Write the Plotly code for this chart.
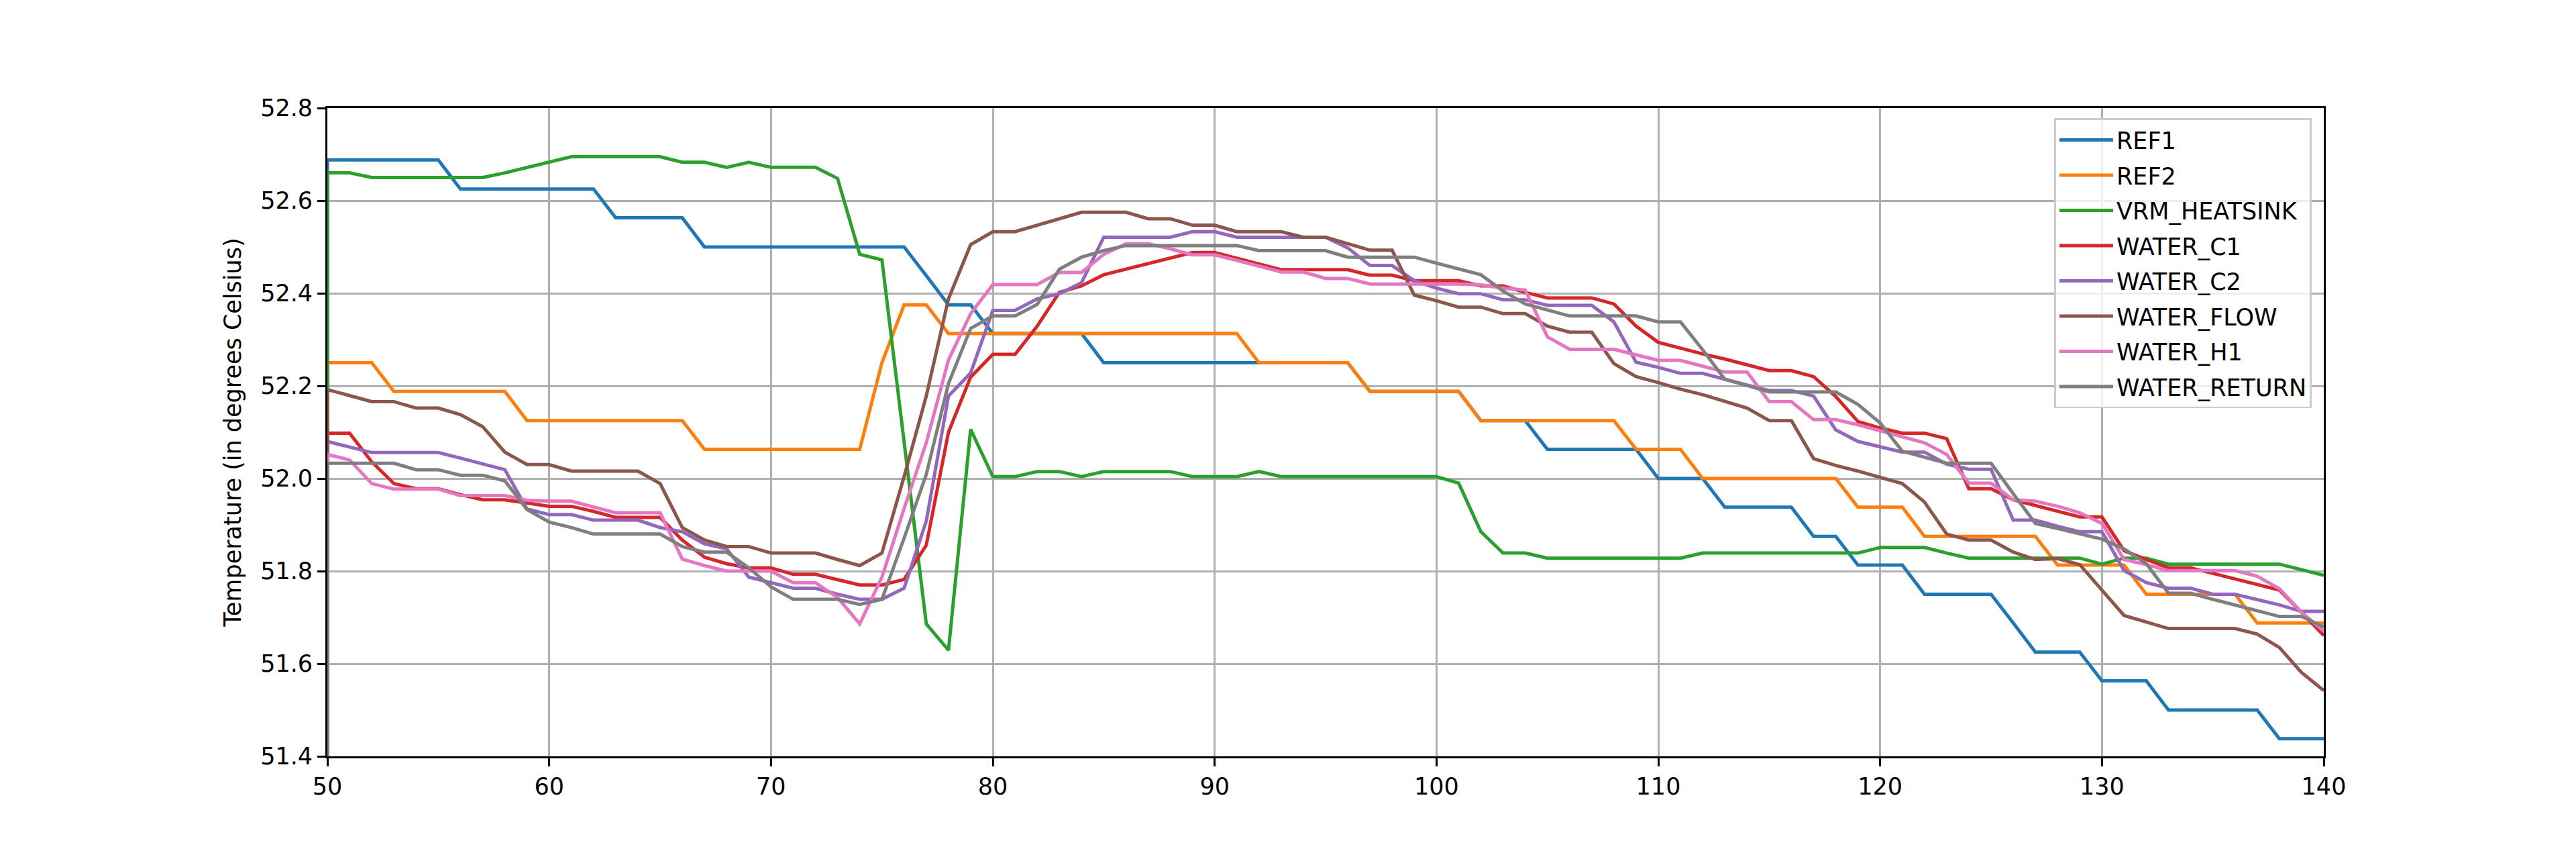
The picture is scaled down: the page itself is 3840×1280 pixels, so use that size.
import plotly.graph_objects as go

# sample index (x axis); the first point of every series is the lead-in from below the view
time = [50] + list(range(50, 141))
lead_in = 51.0

REF1 = [lead_in,
        52.688, 52.688, 52.688, 52.688, 52.688, 52.688, 52.625, 52.625, 52.625, 52.625,
        52.625, 52.625, 52.625, 52.563, 52.563, 52.563, 52.563, 52.5, 52.5, 52.5,
        52.5, 52.5, 52.5, 52.5, 52.5, 52.5, 52.5, 52.438, 52.375, 52.375,
        52.313, 52.313, 52.313, 52.313, 52.313, 52.25, 52.25, 52.25, 52.25, 52.25,
        52.25, 52.25, 52.25, 52.25, 52.25, 52.25, 52.25, 52.188, 52.188, 52.188,
        52.188, 52.188, 52.125, 52.125, 52.125, 52.063, 52.063, 52.063, 52.063, 52.063,
        52.0, 52.0, 52.0, 51.938, 51.938, 51.938, 51.938, 51.875, 51.875, 51.813,
        51.813, 51.813, 51.75, 51.75, 51.75, 51.75, 51.688, 51.625, 51.625, 51.625,
        51.563, 51.563, 51.563, 51.5, 51.5, 51.5, 51.5, 51.5, 51.438, 51.438,
        51.438]

REF2 = [lead_in,
        52.25, 52.25, 52.25, 52.188, 52.188, 52.188, 52.188, 52.188, 52.188, 52.125,
        52.125, 52.125, 52.125, 52.125, 52.125, 52.125, 52.125, 52.063, 52.063, 52.063,
        52.063, 52.063, 52.063, 52.063, 52.063, 52.25, 52.375, 52.375, 52.313, 52.313,
        52.313, 52.313, 52.313, 52.313, 52.313, 52.313, 52.313, 52.313, 52.313, 52.313,
        52.313, 52.313, 52.25, 52.25, 52.25, 52.25, 52.25, 52.188, 52.188, 52.188,
        52.188, 52.188, 52.125, 52.125, 52.125, 52.125, 52.125, 52.125, 52.125, 52.063,
        52.063, 52.063, 52.0, 52.0, 52.0, 52.0, 52.0, 52.0, 52.0, 51.938,
        51.938, 51.938, 51.875, 51.875, 51.875, 51.875, 51.875, 51.875, 51.813, 51.813,
        51.813, 51.813, 51.75, 51.75, 51.75, 51.75, 51.75, 51.688, 51.688, 51.688,
        51.688]

VRM_HEATSINK = [lead_in,
                52.66, 52.66, 52.65, 52.65, 52.65, 52.65, 52.65, 52.65, 52.66, 52.672,
                52.683, 52.695, 52.695, 52.695, 52.695, 52.695, 52.683, 52.683, 52.672, 52.683,
                52.672, 52.672, 52.672, 52.648, 52.484, 52.472, 52.08, 51.686, 51.629, 52.106,
                52.004, 52.004, 52.015, 52.015, 52.004, 52.015, 52.015, 52.015, 52.015, 52.004,
                52.004, 52.004, 52.015, 52.004, 52.004, 52.004, 52.004, 52.004, 52.004, 52.004,
                52.004, 51.99, 51.885, 51.839, 51.839, 51.828, 51.828, 51.828, 51.828, 51.828,
                51.828, 51.828, 51.839, 51.839, 51.839, 51.839, 51.839, 51.839, 51.839, 51.839,
                51.851, 51.851, 51.851, 51.839, 51.828, 51.828, 51.828, 51.828, 51.828, 51.828,
                51.815, 51.828, 51.828, 51.815, 51.815, 51.815, 51.815, 51.815, 51.815, 51.803,
                51.791]

WATER_C1 = [lead_in,
            52.098, 52.098, 52.036, 51.989, 51.978, 51.978, 51.965, 51.954, 51.954, 51.947,
            51.94, 51.94, 51.929, 51.916, 51.916, 51.916, 51.867, 51.83, 51.816, 51.807,
            51.807, 51.793, 51.793, 51.782, 51.77, 51.77, 51.782, 51.856, 52.1, 52.219,
            52.268, 52.268, 52.329, 52.402, 52.416, 52.44, 52.452, 52.465, 52.476, 52.488,
            52.488, 52.476, 52.464, 52.451, 52.451, 52.451, 52.451, 52.439, 52.439, 52.427,
            52.427, 52.427, 52.416, 52.416, 52.402, 52.39, 52.39, 52.39, 52.377, 52.329,
            52.294, 52.281, 52.269, 52.258, 52.245, 52.233, 52.233, 52.22, 52.177, 52.123,
            52.109, 52.098, 52.098, 52.086, 51.978, 51.978, 51.954, 51.942, 51.929, 51.917,
            51.917, 51.844, 51.825, 51.807, 51.807, 51.795, 51.783, 51.77, 51.759, 51.711,
            51.661]

WATER_C2 = [lead_in,
            52.08, 52.068, 52.056, 52.056, 52.056, 52.056, 52.044, 52.031, 52.019, 51.934,
            51.922, 51.922, 51.91, 51.91, 51.91, 51.894, 51.885, 51.859, 51.848, 51.787,
            51.775, 51.763, 51.763, 51.75, 51.739, 51.739, 51.763, 51.908, 52.178, 52.228,
            52.363, 52.363, 52.388, 52.399, 52.423, 52.521, 52.521, 52.521, 52.521, 52.533,
            52.533, 52.521, 52.521, 52.521, 52.521, 52.521, 52.498, 52.46, 52.46, 52.427,
            52.411, 52.399, 52.399, 52.386, 52.386, 52.374, 52.374, 52.374, 52.338, 52.251,
            52.24, 52.227, 52.227, 52.214, 52.202, 52.19, 52.19, 52.178, 52.105, 52.08,
            52.068, 52.057, 52.057, 52.031, 52.02, 52.02, 51.91, 51.91, 51.897, 51.885,
            51.885, 51.801, 51.775, 51.763, 51.763, 51.75, 51.75, 51.739, 51.727, 51.713,
            51.713]

WATER_FLOW = [lead_in,
              52.192, 52.179, 52.166, 52.166, 52.152, 52.152, 52.138, 52.112, 52.057, 52.03,
              52.03, 52.016, 52.016, 52.016, 52.016, 51.989, 51.894, 51.867, 51.853, 51.853,
              51.839, 51.839, 51.839, 51.825, 51.812, 51.839, 52.004, 52.178, 52.388, 52.505,
              52.533, 52.533, 52.547, 52.561, 52.575, 52.575, 52.575, 52.561, 52.561, 52.547,
              52.547, 52.533, 52.533, 52.533, 52.521, 52.521, 52.507, 52.493, 52.493, 52.396,
              52.384, 52.37, 52.37, 52.356, 52.356, 52.329, 52.316, 52.316, 52.248, 52.22,
              52.207, 52.193, 52.181, 52.167, 52.152, 52.125, 52.125, 52.043, 52.028, 52.016,
              52.003, 51.989, 51.949, 51.88, 51.867, 51.867, 51.841, 51.825, 51.827, 51.814,
              51.759, 51.704, 51.69, 51.676, 51.676, 51.676, 51.676, 51.664, 51.635, 51.581,
              51.542]

WATER_H1 = [lead_in,
            52.052, 52.04, 51.989, 51.977, 51.977, 51.977, 51.963, 51.963, 51.963, 51.953,
            51.951, 51.951, 51.938, 51.926, 51.926, 51.926, 51.826, 51.812, 51.8, 51.8,
            51.8, 51.775, 51.775, 51.743, 51.686, 51.787, 51.935, 52.077, 52.256, 52.356,
            52.419, 52.419, 52.419, 52.445, 52.445, 52.484, 52.507, 52.507, 52.496, 52.483,
            52.483, 52.471, 52.459, 52.446, 52.446, 52.432, 52.432, 52.42, 52.42, 52.42,
            52.42, 52.42, 52.418, 52.411, 52.407, 52.306, 52.279, 52.279, 52.279, 52.267,
            52.255, 52.255, 52.242, 52.23, 52.23, 52.166, 52.166, 52.127, 52.127, 52.116,
            52.103, 52.09, 52.077, 52.052, 51.99, 51.99, 51.954, 51.951, 51.94, 51.926,
            51.903, 51.825, 51.814, 51.801, 51.801, 51.801, 51.801, 51.789, 51.762, 51.711,
            51.67]

WATER_RETURN = [lead_in,
                52.033, 52.033, 52.033, 52.033, 52.019, 52.019, 52.007, 52.007, 51.995, 51.933,
                51.906, 51.894, 51.88, 51.88, 51.88, 51.88, 51.853, 51.841, 51.841, 51.807,
                51.766, 51.739, 51.739, 51.739, 51.728, 51.739, 51.871, 52.009, 52.205, 52.324,
                52.351, 52.351, 52.376, 52.452, 52.478, 52.492, 52.503, 52.503, 52.503, 52.503,
                52.503, 52.503, 52.492, 52.492, 52.492, 52.492, 52.478, 52.478, 52.478, 52.478,
                52.465, 52.452, 52.44, 52.405, 52.377, 52.364, 52.351, 52.351, 52.351, 52.351,
                52.338, 52.338, 52.278, 52.214, 52.201, 52.187, 52.187, 52.187, 52.187, 52.16,
                52.12, 52.059, 52.046, 52.033, 52.033, 52.033, 51.967, 51.903, 51.892, 51.88,
                51.869, 51.848, 51.816, 51.752, 51.752, 51.739, 51.727, 51.714, 51.702, 51.702,
                51.679]

series = {
    'REF1': REF1,
    'REF2': REF2,
    'VRM_HEATSINK': VRM_HEATSINK,
    'WATER_C1': WATER_C1,
    'WATER_C2': WATER_C2,
    'WATER_FLOW': WATER_FLOW,
    'WATER_H1': WATER_H1,
    'WATER_RETURN': WATER_RETURN,
}
colors = ['#1f77b4', '#ff7f0e', '#2ca02c', '#d62728',
          '#9467bd', '#8c564b', '#e377c2', '#7f7f7f']

fig = go.Figure()
for (name, vals), color in zip(series.items(), colors):
    fig.add_trace(go.Scatter(x=time, y=vals, mode='lines', name=name,
                             legendgroup=name,
                             line=dict(color=color, width=5)))

axis_style = dict(
    showgrid=True, gridcolor='#b0b0b0', gridwidth=2.8,
    showline=True, linecolor='black', linewidth=2.8, mirror=True,
    ticks='outside', ticklen=12, tickwidth=2.8, tickcolor='black',
    tickfont=dict(size=35, color='black'),
    zeroline=False,
)

fig.update_xaxes(range=[50, 140], tick0=50, dtick=10, **axis_style)
fig.update_yaxes(range=[51.4, 52.8], tick0=51.4, dtick=0.2, tickformat='.1f',
                 title=dict(text='Temperature (in degrees Celsius)',
                            font=dict(size=35, color='black'), standoff=18),
                 **axis_style)

fig.update_layout(
    width=3840, height=1280,
    margin=dict(l=480, r=384, t=153, b=161),
    plot_bgcolor='white', paper_bgcolor='white',
    font=dict(family='DejaVu Sans', color='black'),
    showlegend=True,
    legend=dict(
        x=0.994, y=0.984, xanchor='right', yanchor='top',
        bgcolor='rgba(255,255,255,0.8)', bordercolor='#cccccc', borderwidth=2.8,
        font=dict(size=35, color='black'),
        tracegroupgap=4, itemwidth=80,
    ),
)

fig.write_html('out.html')
